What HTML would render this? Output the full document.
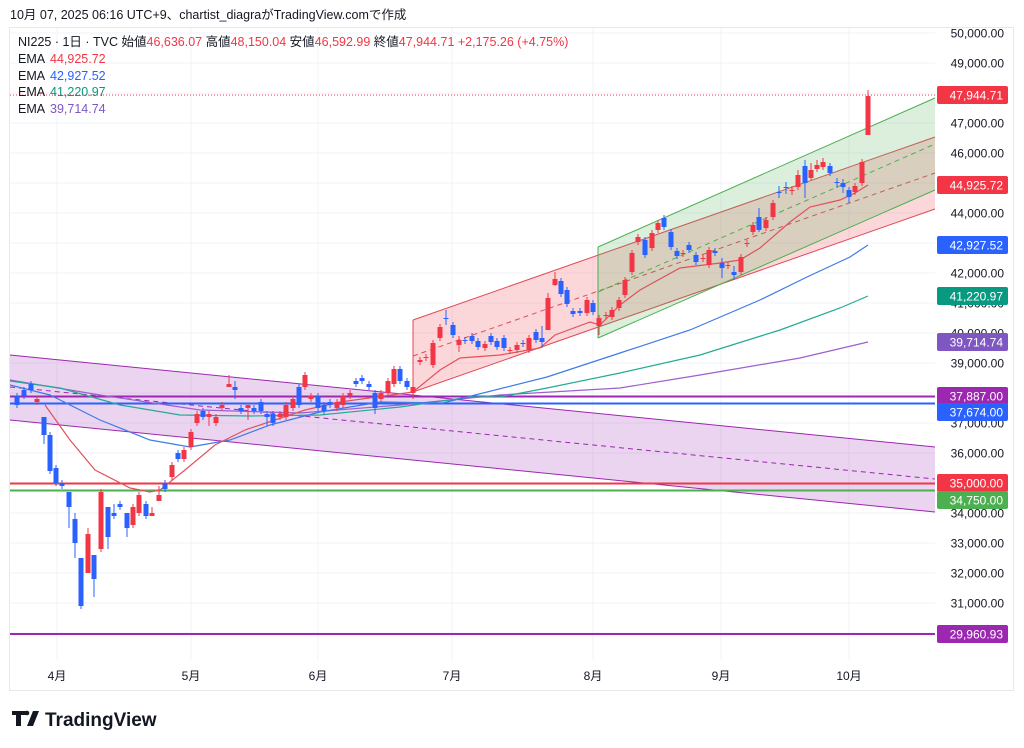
<!DOCTYPE html>
<html><head><meta charset="utf-8"><style>
html,body{margin:0;padding:0;background:#fff;width:1024px;height:748px;overflow:hidden}
svg{display:block}
text{font-family:"Liberation Sans","Noto Sans CJK JP",sans-serif}
</style></head><body>
<svg id="s" width="1024" height="748" xmlns="http://www.w3.org/2000/svg">
<rect width="1024" height="748" fill="#fff"/>
<g id="grid" stroke="#f0f3fa" stroke-width="1"></g>
<rect x="9.5" y="27.5" width="1004" height="663" fill="none" stroke="#e6e8ee"/>
<polygon points="10,355 935,447 935,512 10,420" fill="#9c27b0" fill-opacity="0.2"/>
<line x1="10" y1="355" x2="935" y2="447" stroke="#9c27b0" stroke-width="1"/>
<line x1="10" y1="420" x2="935" y2="512" stroke="#9c27b0" stroke-width="1"/>
<line x1="10" y1="387" x2="935" y2="479" stroke="#9c27b0" stroke-width="1" stroke-dasharray="5,4"/>
<polygon points="413,320 935,137 935,209 413,392" fill="#f23645" fill-opacity="0.2"/>
<line x1="413" y1="320" x2="935" y2="137" stroke="#e04a55" stroke-width="1"/>
<line x1="413" y1="392" x2="935" y2="209" stroke="#e04a55" stroke-width="1"/>
<line x1="413" y1="356" x2="935" y2="173" stroke="#e04a55" stroke-width="1" stroke-dasharray="5,4"/>
<line x1="413" y1="320" x2="413" y2="392" stroke="#e04a55" stroke-width="1"/>
<polygon points="598,247 935,98 935,190 598,338" fill="#4caf50" fill-opacity="0.2"/>
<line x1="598" y1="247" x2="935" y2="98" stroke="#4caf50" stroke-width="1"/>
<line x1="598" y1="338" x2="935" y2="190" stroke="#4caf50" stroke-width="1"/>
<line x1="598" y1="292" x2="935" y2="144" stroke="#4caf50" stroke-width="1" stroke-dasharray="5,4"/>
<line x1="598" y1="247" x2="598" y2="338" stroke="#4caf50" stroke-width="1"/>
<line x1="10" y1="396.5" x2="935" y2="396.5" stroke="#9c27b0" stroke-width="2"/>
<line x1="10" y1="403.5" x2="935" y2="403.5" stroke="#2962ff" stroke-width="2"/>
<line x1="10" y1="483.5" x2="935" y2="483.5" stroke="#f23645" stroke-width="2"/>
<line x1="10" y1="490.5" x2="935" y2="490.5" stroke="#4caf50" stroke-width="2"/>
<line x1="10" y1="634" x2="935" y2="634" stroke="#9c27b0" stroke-width="2"/>
<line x1="10" y1="95" x2="935" y2="95" stroke="#f23645" stroke-width="1" stroke-dasharray="1,2"/>
<polyline fill="none" stroke="#9c5fd0" stroke-width="1.2" points="10,380 100,395 200,410 300,413 400,405 500,395 620,388 700,375 800,358 868,342"/>
<polyline fill="none" stroke="#22ab94" stroke-width="1.2" points="10,381 60,388 120,405 180,415 250,416 320,415 400,407 470,397 500,397 547,388 620,373 700,355 780,330 840,308 868,296"/>
<polyline fill="none" stroke="#3f7be8" stroke-width="1.2" points="10,385 50,395 100,420 150,440 190,447 230,440 270,425 320,412 380,402 443,403 547,377 620,353 690,330 760,300 807,277 850,257 868,245"/>
<polyline fill="none" stroke="#e0525c" stroke-width="1.2" points="45,405 70,440 95,470 130,488 150,492 160,490 185,470 215,445 245,430 275,420 305,410 340,402 413,392 440,370 460,358 500,355 540,348 555,335 590,322 600,325 620,305 640,290 680,268 720,263 740,260 760,248 790,222 810,207 840,200 855,193 868,185"/>
<g id="candles"></g>
<g id="axis"></g>
<text x="10" y="19" font-size="12.5" fill="#131722">10月 07, 2025 06:16 UTC+9、chartist_diagraがTradingView.comで作成</text>
<text x="18" y="46" font-size="12.5" fill="#131722">NI225 · 1日 · TVC  始値<tspan fill="#f23645">46,636.07</tspan> 高値<tspan fill="#f23645">48,150.04</tspan> 安値<tspan fill="#f23645">46,592.99</tspan> 終値<tspan fill="#f23645">47,944.71</tspan> <tspan fill="#f23645">+2,175.26 (+4.75%)</tspan></text>
<text x="18" y="63" font-size="12.5" fill="#131722">EMA <tspan x="50" fill="#f23645">44,925.72</tspan></text>
<text x="18" y="80" font-size="12.5" fill="#131722">EMA <tspan x="50" fill="#2962ff">42,927.52</tspan></text>
<text x="18" y="96" font-size="12.5" fill="#131722">EMA <tspan x="50" fill="#089981">41,220.97</tspan></text>
<text x="18" y="113" font-size="12.5" fill="#131722">EMA <tspan x="50" fill="#7e57c2">39,714.74</tspan></text>
<rect x="12" y="711" width="14" height="4" fill="#131722"/>
<rect x="16" y="711" width="5" height="15" fill="#131722"/>
<polygon points="27,726 33,711 39,711 33,726" fill="#131722"/>
<circle cx="27" cy="713" r="2.3" fill="#131722"/>
<text x="45" y="726" font-size="19" font-weight="bold" fill="#131722">TradingView</text>
</svg>
<script>
var NS="http://www.w3.org/2000/svg";
function el(p,t,a,txt){var e=document.createElementNS(NS,t);for(var k in a)e.setAttribute(k,a[k]);if(txt!=null)e.textContent=txt;p.appendChild(e);return e;}
function Y(p){return 33+(50-p)*30;}
var grid=document.getElementById('grid'),axis=document.getElementById('axis'),cg=document.getElementById('candles');
for(var v=30;v<=50;v++){var y=Y(v);el(grid,'line',{x1:10,x2:935,y1:y,y2:y});
 el(axis,'text',{x:1004,y:y+4.5,'font-size':12,'text-anchor':'end',fill:'#131722'},v+',000.00');}
var months=[[57,'4月'],[191,'5月'],[318,'6月'],[452,'7月'],[593,'8月'],[721,'9月'],[849,'10月']];
months.forEach(function(m){el(grid,'line',{x1:m[0],x2:m[0],y1:28,y2:660});el(axis,'text',{x:m[0],y:680,'font-size':12,'text-anchor':'middle',fill:'#131722'},m[1]);});
var R='#f23645',B='#2962ff';
var early=[[17,37.9,37.6,'b'],[24,38.1,37.9,'b'],[31,38.3,38.1,'b'],[37,37.8,37.7,'r'],[44,37.2,36.6,'b',37.2,36.3],[50,36.6,35.4,'b'],[56,35.5,35.0,'b'],[62,35.0,34.9,'b'],[69,34.7,34.2,'b',34.7,33.5],[75,33.8,33.0,'b',34.0,32.5],[81,32.5,30.9,'b',32.5,30.8],[88,33.3,32.0,'r',33.5,32.0],[94,32.6,31.8,'b',32.6,31.2],[101,34.7,32.8,'r'],[108,34.2,33.2,'b',34.2,32.8],[114,34.0,33.9,'b',34.3,33.8],[120,34.3,34.2,'b'],[127,34.0,33.5,'b',34.0,33.2],[133,34.2,33.6,'r'],[139,34.6,34.0,'r'],[146,34.3,33.9,'b'],[152,34.0,33.9,'r',34.2,33.9],[159,34.6,34.4,'r',34.9,34.4],[165,35.0,34.8,'b'],[172,35.6,35.2,'r'],[178,36.0,35.8,'b'],[184,36.1,35.8,'r'],[191,36.7,36.2,'r'],[197,37.3,37.0,'r'],[203,37.4,37.2,'b'],[209,37.3,37.2,'r',37.4,36.9],[216,37.2,37.0,'r'],[222,37.6,37.5,'r'],[229,38.3,38.2,'r',38.6,38.2],[235,38.2,38.1,'b',38.4,37.8],[241,37.5,37.4,'b'],[248,37.6,37.5,'r',37.6,37.1],[254,37.5,37.4,'b'],[261,37.7,37.4,'b'],[267,37.3,37.2,'b',37.4,36.9],[273,37.3,37.0,'b'],[280,37.3,37.2,'r'],[286,37.6,37.2,'r'],[293,37.8,37.5,'r'],[299,38.2,37.6,'b'],[305,38.6,38.2,'r'],[311,37.9,37.8,'r'],[318,37.9,37.5,'b'],[324,37.6,37.4,'b'],[330,37.7,37.6,'b'],[337,37.7,37.5,'r'],[343,37.9,37.6,'r'],[350,38.0,37.9,'r'],[356,38.4,38.3,'b'],[362,38.5,38.4,'b'],[369,38.3,38.2,'b'],[375,38.0,37.5,'b',38.1,37.3],[381,38.0,37.8,'r'],[388,38.4,38.0,'r'],[394,38.8,38.3,'r'],[400,38.8,38.4,'b'],[407,38.4,38.2,'b'],[413,38.2,38.0,'r',38.3,37.8]];
var late=[[420,360,362,'r'],[426,357,358,'r'],[433,343,365,'r'],[440,327,338,'r'],[446,318,319,'b',310,325],[453,325,335,'b'],[459,340,345,'r',336,352],[465,340,341,'b'],[472,336,341,'b'],[478,341,347,'b'],[485,344,348,'r'],[491,336,342,'b'],[497,341,347,'b'],[504,338,348,'b'],[510,350,351,'r'],[517,345,350,'r'],[523,343,344,'b'],[529,338,350,'r'],[536,332,340,'b'],[542,338,342,'b',326,348],[548,298,330,'r',293,330],[555,279,285,'r',272,286],[561,281,294,'b'],[567,290,304,'b'],[573,311,314,'b'],[580,311,313,'b'],[587,300,313,'r'],[593,303,312,'b'],[599,318,326,'r',315,335],[606,315,316,'r'],[612,310,317,'r'],[619,300,308,'r'],[625,280,295,'r'],[632,253,272,'r'],[638,237,242,'r'],[645,240,255,'b'],[652,233,248,'r'],[658,223,230,'r'],[664,218,227,'b'],[671,232,247,'b'],[677,251,256,'b'],[683,253,254,'r'],[689,245,250,'b'],[696,255,262,'b'],[703,258,259,'r'],[709,250,265,'r'],[715,251,253,'b'],[722,263,268,'b',258,278],[728,265,266,'r'],[734,272,275,'b',266,280],[741,257,272,'r'],[747,243,244,'r'],[753,225,232,'r'],[759,217,230,'b',208,232],[766,220,228,'r'],[773,203,217,'r'],[779,192,193,'b',186,198],[786,187,188,'b',182,194],[792,190,191,'r',186,195],[798,175,187,'r',170,190],[805,166,183,'b',160,198],[811,170,178,'r',163,180],[817,165,169,'r',160,172],[823,162,167,'r',158,170],[830,166,173,'b'],[837,182,183,'b',178,188],[843,183,187,'b',179,193],[849,190,197,'b',187,203],[855,186,192,'r',183,195],[862,162,183,'r'],[868,96,135,'r',90,135]];
function draw(x,t,b,c,wt,wb){var col=c=='r'?R:B;if(wt==null)wt=t-3;if(wb==null)wb=b+3;
 el(cg,'line',{x1:x,x2:x,y1:wt,y2:wb,stroke:col,'stroke-width':1});
 el(cg,'rect',{x:x-2.5,y:t,width:5,height:Math.max(1,b-t),fill:col});}
early.forEach(function(d){var t=Y(Math.max(d[1],d[2])),b=Y(Math.min(d[1],d[2]));draw(d[0],t,b,d[3],d[4]!=null?Y(d[4]):null,d[5]!=null?Y(d[5]):null);});
late.forEach(function(d){draw(d[0],d[1],d[2],d[3],d[4],d[5]);});
var labels=[[95,'#f23645','47,944.71'],[185,'#f23645','44,925.72'],[245,'#2962ff','42,927.52'],[296,'#089981','41,220.97'],[342,'#7e57c2','39,714.74'],[396,'#9c27b0','37,887.00'],[412,'#2962ff','37,674.00'],[483,'#f23645','35,000.00'],[500,'#4caf50','34,750.00'],[634,'#9c27b0','29,960.93']];
labels.forEach(function(l){var y=l[0];
 el(axis,'rect',{x:937,y:y-9,width:71,height:18,rx:2,fill:l[1]});
 el(axis,'text',{x:1003,y:y+4.5,'font-size':12,'text-anchor':'end',fill:'#fff'},l[2]);});
</script>
</body></html>
